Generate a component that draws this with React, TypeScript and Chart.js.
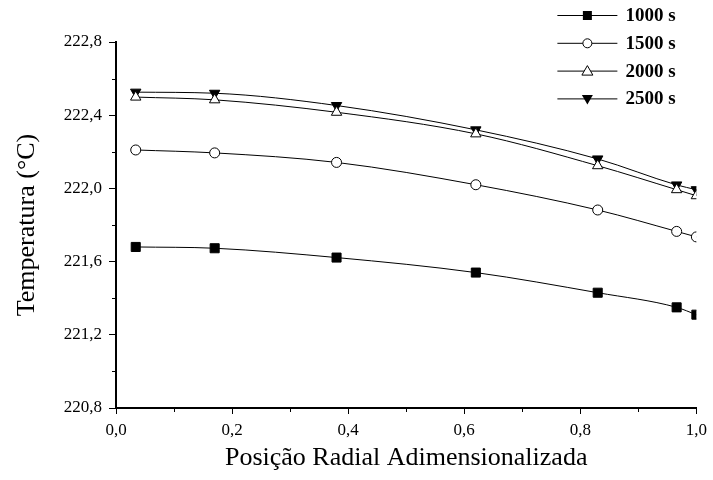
import React, { useEffect, useRef } from 'react';
import { Chart, registerables } from 'chart.js';

Chart.register(...registerables);

const positions = [0.034, 0.17, 0.38, 0.62, 0.83, 0.966, 1.0];
const temp1000 = [221.68, 221.673, 221.622, 221.54, 221.43, 221.35, 221.31];
const temp1500 = [222.21, 222.194, 222.142, 222.02, 221.882, 221.765, 221.735];
const temp2000 = [222.499, 222.484, 222.416, 222.298, 222.124, 221.993, 221.96];
const temp2500 = [222.526, 222.52, 222.453, 222.32, 222.161, 222.019, 221.993];
const seriesLabels = ['1000 s', '1500 s', '2000 s', '2500 s'];
const xTicks = [0, 0.2, 0.4, 0.6, 0.8, 1.0];
const xMinorTicks = [0.1, 0.3, 0.5, 0.7, 0.9];
const yTicks = [220.8, 221.2, 221.6, 222.0, 222.4, 222.8];
const yMinorTicks = [221.0, 221.4, 221.8, 222.2, 222.6];
const xTitle = 'Posição Radial Adimensionalizada';
const yTitle = 'Temperatura (°C)';

const FONT = '"Liberation Serif", "Times New Roman", serif';

const fmt = (v: number) => v.toFixed(1).replace('.', ',');

type MarkerKind = 'rect' | 'circle' | 'triangle' | 'triangleDown';
const markerKinds: MarkerKind[] = ['rect', 'circle', 'triangle', 'triangleDown'];

function drawMarker(ctx: CanvasRenderingContext2D, kind: MarkerKind, x: number, y: number) {
  ctx.beginPath();
  if (kind === 'rect') {
    ctx.rect(x - 4.5, y - 4.5, 9, 9);
    ctx.fillStyle = '#000';
    ctx.fill();
  } else if (kind === 'circle') {
    ctx.arc(x, y, 4.5, 0, Math.PI * 2);
    ctx.fillStyle = '#fff';
    ctx.fill();
    ctx.stroke();
  } else if (kind === 'triangle') {
    ctx.moveTo(x, y - 5.5);
    ctx.lineTo(x + 5.5, y + 4);
    ctx.lineTo(x - 5.5, y + 4);
    ctx.closePath();
    ctx.fillStyle = '#fff';
    ctx.fill();
    ctx.stroke();
  } else {
    ctx.moveTo(x, y + 5.5);
    ctx.lineTo(x + 5.5, y - 4);
    ctx.lineTo(x - 5.5, y - 4);
    ctx.closePath();
    ctx.fillStyle = '#000';
    ctx.fill();
  }
}

const customDraw = {
  id: 'customDraw',
  afterDraw(chart: any) {
    const ctx: CanvasRenderingContext2D = chart.ctx;
    const xs = chart.scales.x;
    const ys = chart.scales.y;
    const area = chart.chartArea;
    ctx.save();
    ctx.strokeStyle = '#000';
    ctx.lineWidth = 1;
    // minor ticks
    xMinorTicks.forEach((v) => {
      const px = Math.round(xs.getPixelForValue(v)) + 0.5;
      ctx.beginPath();
      ctx.moveTo(px, area.bottom);
      ctx.lineTo(px, area.bottom + 4);
      ctx.stroke();
    });
    yMinorTicks.forEach((v) => {
      const py = Math.round(ys.getPixelForValue(v)) + 0.5;
      ctx.beginPath();
      ctx.moveTo(area.left, py);
      ctx.lineTo(area.left - 4, py);
      ctx.stroke();
    });
    // legend
    const lineStart = area.right - 139;
    const lineEnd = area.right - 79;
    const markerX = area.right - 109;
    const textX = area.right - 71;
    ctx.font = 'bold 19px ' + FONT;
    ctx.textBaseline = 'middle';
    ctx.textAlign = 'left';
    seriesLabels.forEach((label, i) => {
      const y = 15 + i * 27.8;
      ctx.strokeStyle = '#000';
      ctx.lineWidth = 1;
      ctx.beginPath();
      ctx.moveTo(lineStart, y + 0.5);
      ctx.lineTo(lineEnd, y + 0.5);
      ctx.stroke();
      drawMarker(ctx, markerKinds[i], markerX, y + 0.5);
      ctx.fillStyle = '#000';
      ctx.fillText(label, textX, y + 1);
    });
    ctx.restore();
  },
};

export default function App() {
  const canvasRef = useRef<HTMLCanvasElement | null>(null);

  useEffect(() => {
    if (!canvasRef.current) return;
    const mk = (data: number[]) => positions.map((x, i) => ({ x, y: data[i] }));
    const common = {
      borderColor: '#000',
      borderWidth: 1,
      pointBorderColor: '#000',
      pointBorderWidth: 1,
      tension: 0.35,
      cubicInterpolationMode: 'monotone' as const,
      showLine: true,
      fill: false,
    };
    const chart = new Chart(canvasRef.current, {
      type: 'scatter',
      data: {
        datasets: [
          { ...common, label: seriesLabels[0], data: mk(temp1000), pointStyle: 'rect', pointRadius: 6.4, pointBackgroundColor: '#000' },
          { ...common, label: seriesLabels[1], data: mk(temp1500), pointStyle: 'circle', pointRadius: 5, pointBackgroundColor: '#fff' },
          { ...common, label: seriesLabels[2], data: mk(temp2000), pointStyle: 'triangle', pointRadius: 6, pointBackgroundColor: '#fff' },
          { ...common, label: seriesLabels[3], data: mk(temp2500), pointStyle: 'triangle', rotation: 180, pointRadius: 6, pointBackgroundColor: '#000' },
        ],
      },
      options: {
        animation: false,
        responsive: false,
        maintainAspectRatio: false,
        layout: { padding: { top: 42, right: 14, left: 0, bottom: 0 } },
        plugins: { legend: { display: false }, tooltip: { enabled: false } },
        scales: {
          x: {
            type: 'linear',
            min: 0,
            max: 1,
            position: 'bottom',
            afterBuildTicks: (s: any) => {
              s.ticks = xTicks.map((v) => ({ value: v }));
            },
            afterFit: (s: any) => {
              s.height = 72;
            },
            grid: { display: true, drawOnChartArea: false, drawTicks: true, tickLength: 6, color: '#000', tickColor: '#000', tickWidth: 1 },
            border: { display: true, color: '#000', width: 2 },
            ticks: {
              color: '#000',
              font: { family: FONT, size: 17 },
              padding: 6,
              maxRotation: 0,
              callback: (v: any) => fmt(Number(v)),
            },
            title: {
              display: true,
              text: xTitle,
              color: '#000',
              font: { family: FONT, size: 26 },
              padding: { top: 0, bottom: 6 },
            },
          },
          y: {
            type: 'linear',
            min: 220.8,
            max: 222.8,
            position: 'left',
            afterBuildTicks: (s: any) => {
              s.ticks = yTicks.map((v) => ({ value: v }));
            },
            afterFit: (s: any) => {
              s.width = 116;
            },
            grid: { display: true, drawOnChartArea: false, drawTicks: true, tickLength: 7, color: '#000', tickColor: '#000', tickWidth: 1 },
            border: { display: true, color: '#000', width: 2 },
            ticks: {
              color: '#000',
              font: { family: FONT, size: 17 },
              padding: 7,
              callback: (v: any) => fmt(Number(v)),
            },
            title: {
              display: true,
              text: yTitle,
              color: '#000',
              font: { family: FONT, size: 26 },
              padding: { top: 12, bottom: 0 },
            },
          },
        },
      },
      plugins: [customDraw],
    });
    return () => chart.destroy();
  }, []);

  return (
    <div style={{ position: 'fixed', left: 0, top: 0, width: 713, height: 480, background: '#fff' }}>
      <canvas ref={canvasRef} width={713} height={480} style={{ display: 'block', width: 713, height: 480 }} />
    </div>
  );
}
